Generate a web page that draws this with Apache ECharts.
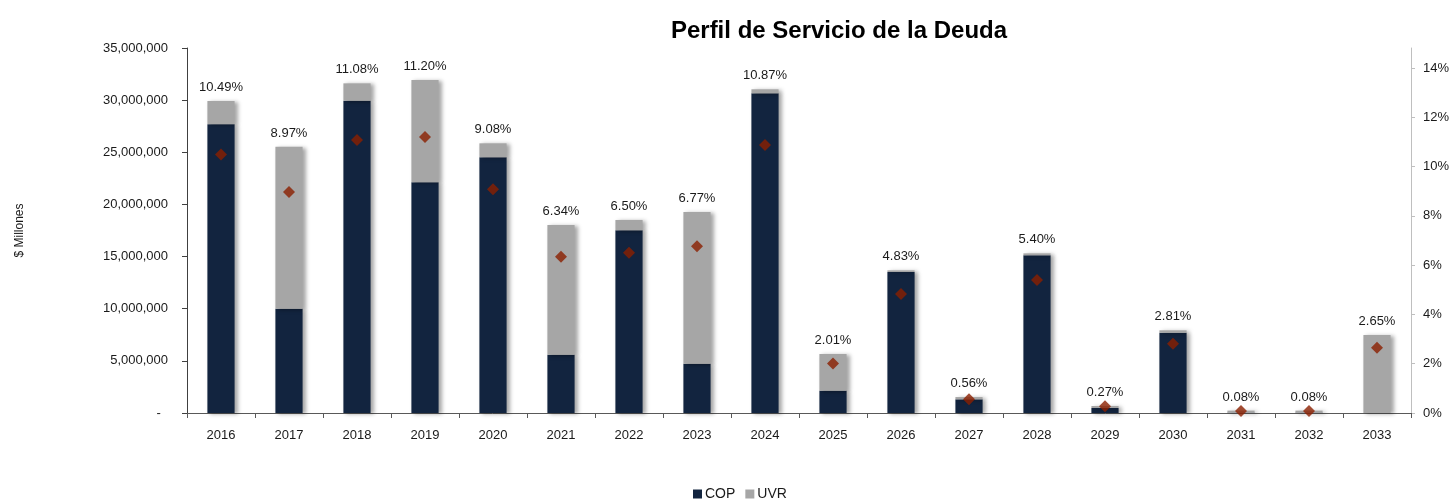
<!DOCTYPE html>
<html>
<head>
<meta charset="utf-8">
<script src="https://cdn.jsdelivr.net/npm/echarts@6/dist/echarts.min.js"></script>
<style>
  html, body { margin: 0; padding: 0; background: #fff; }
  #chart { width: 1454px; height: 502px; }
</style>
</head>
<body>
<div id="chart"></div>
<script>
// años del perfil
const years = ['2016', '2017', '2018', '2019', '2020', '2021', '2022', '2023', '2024',
  '2025', '2026', '2027', '2028', '2029', '2030', '2031', '2032', '2033'];
// servicio de deuda en $ millones
const cop = [27700000, 10000000, 29950000, 22120000, 24520000, 5590000, 17520000, 4730000, 30650000,
  2140000, 13520000, 1310000, 15120000, 480000, 7700000, 30000, 30000, 0];
const uvr = [2220000, 15540000, 1660000, 9810000, 1340000, 12440000, 990000, 14540000, 390000,
  3520000, 160000, 220000, 190000, 190000, 230000, 200000, 200000, 7480000];
// participación sobre el total (%)
const pct = [10.49, 8.97, 11.08, 11.20, 9.08, 6.34, 6.50, 6.77, 10.87,
  2.01, 4.83, 0.56, 5.40, 0.27, 2.81, 0.08, 0.08, 2.65];

const FONT = '"Liberation Sans", Arial, sans-serif';
const TXT = '#1a1a1a';

const chart = echarts.init(document.getElementById('chart'));

const fmtMillions = v => v === 0 ? '-  ' : v.toLocaleString('en-US');

const barShadow = { shadowColor: 'rgba(0,0,0,0.35)', shadowBlur: 4, shadowOffsetX: 3, shadowOffsetY: 1 };

chart.setOption({
  animation: false,
  textStyle: { fontFamily: FONT },
  title: {
    text: 'Perfil de Servicio de la Deuda',
    left: 834, top: 14, textAlign: 'center',
    textStyle: { fontFamily: FONT, fontSize: 24, fontWeight: 'bold', color: '#000' },
  },
  legend: {
    bottom: 1, left: 693, padding: 0,
    itemWidth: 9, itemHeight: 9, itemGap: 10,
    icon: 'rect',
    textStyle: { fontFamily: FONT, fontSize: 14, color: TXT, padding: [0, 0, 0, -2] },
    data: ['COP', 'UVR'],
  },
  grid: { left: 187, right: 43, top: 48, bottom: 89 },
  xAxis: {
    type: 'category', data: years,
    axisLine: { lineStyle: { color: '#595959', width: 1 } },
    axisTick: { show: true, length: 5, lineStyle: { color: '#595959' } },
    axisLabel: { fontFamily: FONT, fontSize: 13, color: TXT, margin: 16 },
  },
  yAxis: [
    {
      type: 'value', min: 0, max: 35000000, interval: 5000000,
      name: '$ Millones', nameLocation: 'middle', nameGap: 161,
      nameTextStyle: { fontFamily: FONT, fontSize: 12, color: TXT },
      axisLine: { show: true, lineStyle: { color: '#404040' } },
      axisTick: { show: true, length: 5, lineStyle: { color: '#404040' } },
      axisLabel: { fontFamily: FONT, fontSize: 13, color: TXT, margin: 19, formatter: fmtMillions },
      splitLine: { show: false },
    },
    {
      type: 'value', min: 0, max: 0.1481, interval: 0.02, position: 'right',
      axisLine: { show: true, lineStyle: { color: '#bfbfbf' } },
      axisTick: { show: true, length: 4, lineStyle: { color: '#bfbfbf' } },
      axisLabel: {
        fontFamily: FONT, fontSize: 13, color: TXT, margin: 12, showMaxLabel: false,
        formatter: v => Math.round(v * 100) + '%',
      },
      splitLine: { show: false },
    },
  ],
  series: [
    {
      name: 'COP', type: 'bar', stack: 'deuda', barWidth: '40%',
      data: cop,
      itemStyle: Object.assign({ color: '#12243f' }, barShadow),
    },
    {
      name: 'UVR', type: 'bar', stack: 'deuda', barWidth: '40%',
      data: uvr,
      itemStyle: Object.assign({ color: '#a6a6a6' }, barShadow),
      label: {
        show: true, position: 'top', distance: 7,
        fontFamily: FONT, fontSize: 13, color: TXT,
        formatter: p => pct[p.dataIndex].toFixed(2) + '%',
      },
    },
    {
      name: 'Participación', type: 'scatter', yAxisIndex: 1,
      data: pct.map(v => v / 100),
      symbol: 'diamond', symbolSize: [12, 12],
      itemStyle: { color: '#8b1f00' },
      z: 10,
    },
  ],
});
</script>
</body>
</html>
